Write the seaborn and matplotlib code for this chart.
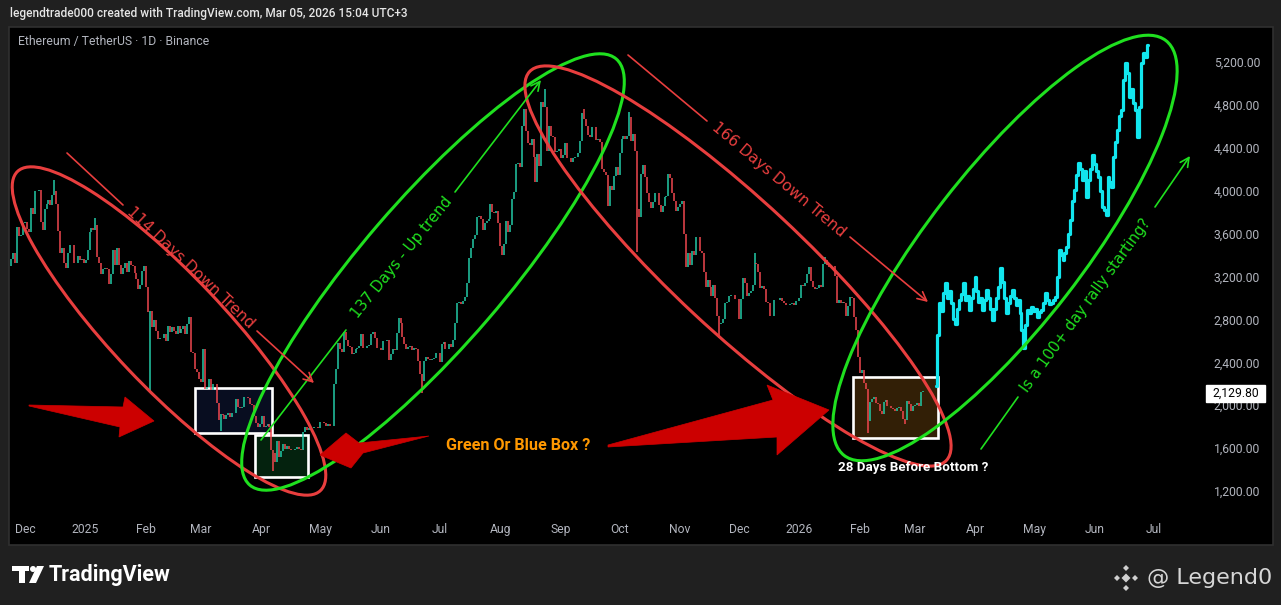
import numpy as np
import pandas as pd
import matplotlib
matplotlib.use("Agg")
import matplotlib.pyplot as plt
import matplotlib.dates as mdates
from matplotlib.patches import Ellipse, Polygon, Rectangle, Circle
from matplotlib.ticker import FuncFormatter
import seaborn as sns

# ---------------- data (daily closes, ETH/USDT) ----------------
nov24 = [3360, 3415, 3330, 3660, 3580, 3590, 3700]
dec24 = [3710, 3640, 3610, 3840, 3780, 4000, 3995, 4010, 3710, 3630, 3830, 3880, 3910, 3870, 3960, 4000,
         3880, 3620, 3420, 3470, 3330, 3280, 3420, 3490, 3490, 3330, 3330, 3390, 3350, 3360, 3330]
jan25 = [3350, 3450, 3610, 3650, 3630, 3680, 3380, 3330, 3220, 3270, 3280, 3270, 3130, 3220, 3450, 3310,
         3470, 3310, 3220, 3280, 3330, 3240, 3340, 3310, 3300, 3230, 3180, 3080, 3120, 3250, 3300]
feb25 = [3100, 2870, 2880, 2730, 2790, 2690, 2620, 2630, 2630, 2660, 2600, 2740, 2680, 2730, 2690, 2660,
         2740, 2670, 2710, 2740, 2660, 2760, 2820, 2500, 2490, 2340, 2310, 2240]
mar25 = [2220, 2520, 2150, 2170, 2240, 2140, 2200, 2200, 2020, 1860, 1920, 1910, 1870, 1910, 1930, 1890,
         1930, 1930, 2060, 1980, 1970, 1980, 2080, 2080, 2070, 2010, 2000, 1900, 1830, 1800, 1820]
apr25 = [1900, 1800, 1810, 1820, 1800, 1580, 1550, 1470, 1670, 1520, 1570, 1640, 1590, 1620, 1590, 1580,
         1580, 1590, 1610, 1590, 1580, 1750, 1800, 1770, 1790, 1790, 1790, 1800, 1800, 1790]
may25 = [1840, 1840, 1830, 1810, 1820, 1810, 1810, 2200, 2340, 2580, 2520, 2500, 2680, 2610, 2550, 2540,
         2480, 2490, 2520, 2530, 2550, 2660, 2530, 2530, 2550, 2560, 2660, 2680, 2630, 2530, 2530]
jun25 = [2510, 2600, 2600, 2610, 2420, 2480, 2520, 2510, 2670, 2810, 2770, 2640, 2570, 2520, 2540, 2550,
         2510, 2530, 2520, 2410, 2290, 2230, 2410, 2450, 2430, 2420, 2430, 2440, 2490, 2490]
jul25 = [2400, 2570, 2590, 2520, 2520, 2570, 2540, 2610, 2770, 2950, 2960, 2940, 2970, 3010, 3140, 3370,
         3470, 3550, 3590, 3750, 3760, 3740, 3630, 3700, 3720, 3740, 3880, 3800, 3790, 3810, 3700]
aug25 = [3480, 3400, 3500, 3720, 3610, 3680, 3920, 3990, 4250, 4260, 4220, 4600, 4760, 4560, 4440, 4430,
         4480, 4310, 4080, 4340, 4230, 4830, 4780, 4780, 4370, 4600, 4510, 4500, 4360, 4370, 4390]
sep25 = [4300, 4330, 4440, 4300, 4300, 4270, 4300, 4310, 4310, 4350, 4460, 4720, 4670, 4600, 4520, 4500,
         4590, 4590, 4470, 4480, 4450, 4200, 4170, 4150, 3860, 4040, 4010, 4140, 4220, 4150]
oct25 = [4350, 4480, 4510, 4480, 4510, 4690, 4460, 4530, 4370, 3830, 3750, 4160, 4240, 4130, 3980, 3890,
         3840, 3890, 3980, 3980, 3870, 3800, 3860, 3940, 3950, 4160, 4120, 3980, 3900, 3810, 3850]
nov25 = [3880, 3900, 3600, 3290, 3420, 3310, 3440, 3400, 3570, 3570, 3440, 3420, 3240, 3100, 3170, 3100,
         3020, 3120, 3000, 2830, 2760, 2770, 2800, 2950, 2960, 3020, 3030, 3030, 2990, 2990]
dec25 = [2800, 2990, 3190, 3140, 3020, 3050, 3060, 3120, 3330, 3320, 3240, 3090, 3110, 3080, 2960, 2950,
         2830, 2830, 2980, 2980, 2980, 3000, 2970, 2950, 2930, 2930, 2940, 2950, 2930, 2970, 2970]
jan26 = [3000, 3120, 3110, 3140, 3220, 3290, 3160, 3100, 3080, 3090, 3120, 3100, 3320, 3350, 3310, 3290,
         3300, 3300, 3200, 2950, 2980, 2950, 2960, 2950, 2830, 2920, 3010, 3000, 2820, 2700, 2450]
feb26 = [2300, 2330, 2210, 2150, 1850, 2030, 2060, 2080, 2020, 2010, 1950, 1920, 2030, 2050, 1990, 1990,
         1970, 1960, 1950, 1970, 1980, 1950, 1870, 1860, 2040, 2010, 1950, 1990]
mar26 = [2000, 2020, 1990, 2120, 2130]

month_starts = ["2024-11-24", "2024-12-01", "2025-01-01", "2025-02-01", "2025-03-01", "2025-04-01",
                "2025-05-01", "2025-06-01", "2025-07-01", "2025-08-01", "2025-09-01", "2025-10-01",
                "2025-11-01", "2025-12-01", "2026-01-01", "2026-02-01", "2026-03-01"]
month_closes = [nov24, dec24, jan25, feb25, mar25, apr25, may25, jun25, jul25, aug25, sep25, oct25,
                nov25, dec25, jan26, feb26, mar26]
first_open = 3300

# notable wicks (date -> extreme)
wick_lows = {"2025-02-03": 2120, "2025-03-11": 1760, "2025-04-07": 1385, "2025-06-22": 2110,
             "2025-10-10": 3430, "2025-11-21": 2630, "2026-02-05": 1745, "2026-02-24": 1820}
wick_highs = {"2024-12-16": 4100, "2025-01-06": 3745, "2025-08-24": 4950, "2025-09-13": 4760,
              "2025-10-06": 4730, "2025-12-09": 3420, "2026-01-14": 3380}

# projected path (cyan), daily from 2026-03-12
proj_start = "2026-03-12"
proj_prices = [2180, 2650, 2950, 2880, 3050, 3140, 3000, 3060, 2950, 2800, 2760, 2900, 2980, 3040, 3140,
               2980, 3020, 2890, 3000, 3080, 3195, 3060, 2960, 3000, 2890, 2980, 3074, 3000, 2900, 2794,
               2900, 3000, 3100, 3279, 3150, 3000, 2860, 2950, 3020, 3074, 3000, 2930, 2980, 2860, 2700,
               2533, 2750, 2888, 2860, 2916, 2880, 2900, 2823, 2870, 2888, 2950, 3046, 2980, 2940, 2953,
               2980, 3009, 3195, 3447, 3400, 3354, 3420, 3475, 3600, 3727, 3900, 4007, 4150, 4258, 4200,
               4100, 4180, 3941, 4100, 4200, 4333, 4250, 4180, 4128, 4000, 3850, 3820, 3773, 4128, 4080,
               4035, 4314, 4450, 4566, 4700, 4752, 5032, 5190, 5097, 4874, 4950, 4818, 4750, 4501, 4780,
               5190, 5283, 5250, 5358]

last_price = 2129.80
price_ticks = [1200, 1600, 2000, 2400, 2800, 3200, 3600, 4000, 4400, 4800, 5200]

# highlighted ranges (date range, price range)
boxes = [
    ("2025-02-26", "2025-04-06 07:00", 1741, 2160, "#080d20"),
    ("2025-03-28 14:00", "2025-04-24 19:00", 1331, 1722, "#04220e"),
    ("2026-01-28 12:00", "2026-03-13", 1694, 2263, "#321f06"),
]

# ---------------- build series ----------------
dates, closes = [], []
for s, vals in zip(month_starts, month_closes):
    dates += list(pd.date_range(s, periods=len(vals), freq="D"))
    closes += vals
df = pd.DataFrame({"date": dates, "close": closes})
df["open"] = [first_open] + closes[:-1]
df["low"] = df[["open", "close"]].min(axis=1)
df["high"] = df[["open", "close"]].max(axis=1)
for d, v in wick_lows.items():
    m = df["date"] == pd.Timestamp(d)
    df.loc[m, "low"] = np.minimum(df.loc[m, "low"], v)
for d, v in wick_highs.items():
    m = df["date"] == pd.Timestamp(d)
    df.loc[m, "high"] = np.maximum(df.loc[m, "high"], v)
UP, DOWN = "#22c9a6", "#f0474f"
df["color"] = np.where(df["close"] >= df["open"], UP, DOWN)

proj = pd.DataFrame({"date": pd.date_range(proj_start, periods=len(proj_prices), freq="D"),
                     "price": proj_prices})

# ---------------- figure ----------------
sns.set_theme(style="dark")
plt.rcParams["font.family"] = ["DejaVu Sans"]
W, H = 1281, 605
fig = plt.figure(figsize=(W / 100, H / 100), dpi=100, facecolor="#202020")

back = fig.add_axes([0, 0, 1, 1], zorder=0)
back.set_xlim(0, W); back.set_ylim(H, 0); back.axis("off")
back.add_patch(Rectangle((9, 27), 1264, 518, facecolor="black", edgecolor="#303030", lw=1.2))

ax = fig.add_axes([10 / W, (H - 515) / H, 1165 / W, 485 / H], zorder=1)
ax.patch.set_alpha(0)
for sp in ax.spines.values():
    sp.set_visible(False)
ax.grid(False)

for d0, d1, p0, p1, fc in boxes:
    x0 = mdates.date2num(pd.Timestamp(d0)); x1 = mdates.date2num(pd.Timestamp(d1))
    ax.add_patch(Rectangle((x0, p0), x1 - x0, p1 - p0, facecolor=fc, edgecolor="white", lw=1.9, zorder=1))

ax.vlines(df["date"], df["low"], df["high"], colors=df["color"], lw=1.1, zorder=2)
sns.lineplot(data=proj, x="date", y="price", ax=ax, color="#12e6ee", lw=2.3,
             drawstyle="steps-mid", zorder=3)

ax.set_xlim(pd.Timestamp("2024-11-23 08:00"), pd.Timestamp("2026-07-12"))
ax.set_ylim(976, 5498)
ax.set_xlabel(""); ax.set_ylabel("")
ax.xaxis.set_major_locator(mdates.MonthLocator())
ax.xaxis.set_major_formatter(FuncFormatter(
    lambda v, p: (mdates.num2date(v).strftime("%Y") if mdates.num2date(v).month == 1
                  else mdates.num2date(v).strftime("%b"))))
ax.yaxis.tick_right()
ax.set_yticks(price_ticks)
ax.set_yticklabels([f"{v:,.2f}" for v in price_ticks])
for lab in ax.get_xticklabels() + ax.get_yticklabels():
    lab.set_family("Roboto")
ax.tick_params(axis="y", length=0, pad=28, labelsize=8.7, colors="#b2b5be")
ax.tick_params(axis="x", length=0, pad=6, labelsize=8.7, colors="#b2b5be")

# ---------------- annotation layer (pixel space) ----------------
fg = fig.add_axes([0, 0, 1, 1], zorder=2)
fg.set_xlim(0, W); fg.set_ylim(H, 0); fg.axis("off"); fg.patch.set_alpha(0)

RED, GREEN, DRED = "#e83e3e", "#1fe01f", "#cc0000"
fg.add_patch(Ellipse((169, 331), 440, 112, angle=46.5, fill=False, ec=RED, lw=2.2))
fg.add_patch(Ellipse((433, 272), 562, 145, angle=-49.3, fill=False, ec=GREEN, lw=2.2))
fg.add_patch(Ellipse((738, 266), 570, 130, angle=43, fill=False, ec=RED, lw=2.2))
fg.add_patch(Ellipse((1005, 248), 525, 155, angle=-52.2, fill=False, ec=GREEN, lw=2.2))

def seg(p0, p1, color, arrow=False):
    if arrow:
        fg.annotate("", xy=p1, xytext=p0,
                    arrowprops=dict(arrowstyle="->", color=color, lw=1.2, mutation_scale=16,
                                    shrinkA=0, shrinkB=0))
    else:
        fg.plot([p0[0], p1[0]], [p0[1], p1[1]], color=color, lw=1.2)

seg((67, 153), (123, 205), RED); seg((257, 331), (314, 383), RED, True)
seg((628, 55), (707, 121), RED); seg((850, 237), (928, 302), RED, True)
seg((261, 440), (346, 330), GREEN); seg((455, 192), (541, 80), GREEN, True)
seg((981, 449), (1018, 397), GREEN); seg((1155, 207), (1190, 156), GREEN, True)

tk = dict(ha="center", va="center", rotation_mode="anchor", family="DejaVu Sans")
fg.text(191, 268, "114 Days Down Trend", color=RED, fontsize=11.2, rotation=-43.4, **tk)
fg.text(402, 258, "137 Days - Up trend", color=GREEN, fontsize=10.8, rotation=51, **tk)
fg.text(779, 180, "166 Days Down Trend", color=RED, fontsize=11.2, rotation=-40, **tk)
fg.text(1086, 305, "Is a 100+ day rally starting?", color=GREEN, fontsize=10.6, rotation=54, **tk)

fg.add_patch(Polygon([(29, 405), (123, 407), (125, 397), (154, 421), (119, 437), (120, 427), (29, 406)],
                     closed=True, fc=DRED, ec=DRED, lw=0.5))
fg.add_patch(Polygon([(320, 455), (346, 433), (359, 443), (429, 436), (363, 453), (351, 468)],
                     closed=True, fc=DRED, ec=DRED, lw=0.5))
fg.add_patch(Polygon([(608, 445), (773, 400), (767, 385), (829, 410), (777, 455), (777, 437), (608, 447)],
                     closed=True, fc=DRED, ec=DRED, lw=0.5))

fg.text(518, 445, "Green Or Blue Box ?", color="#ff9800", fontsize=11.6, fontweight="bold",
        ha="center", va="center", family="Roboto")
fg.text(913, 467, "28 Days Before Bottom ?", color="white", fontsize=9.6, fontweight="bold",
        ha="center", va="center", family="Roboto")

# header / titles
fg.text(10, 14, "legendtrade000 created with TradingView.com, Mar 05, 2026 15:04 UTC+3",
        color="#e6e6e6", fontsize=8.6, ha="left", va="center", family="Roboto", fontweight="medium")
fg.text(18, 42, "Ethereum / TetherUS \u00b7 1D \u00b7 Binance", color="#b2b5be", fontsize=8.8,
        ha="left", va="center", family="Roboto")

# last price tag
fg.add_patch(Rectangle((1206, 385), 59, 17, fc="white", ec="white"))
fg.text(1235.5, 393.5, "2,129.80", color="black", fontsize=8.7, ha="center", va="center", family="Roboto")

# footer: TradingView logo + watermark
fg.add_patch(Rectangle((12, 566), 17, 5, fc="white", ec="none"))
fg.add_patch(Rectangle((19, 566), 6, 17, fc="white", ec="none"))
fg.add_patch(Circle((33, 569), 3, fc="white", ec="none"))
fg.add_patch(Polygon([(37, 566), (44, 566), (36, 583), (29, 583)], closed=True, fc="white", ec="none"))
fg.text(49, 575, "TradingView", color="white", fontsize=15.5, fontweight="bold", ha="left", va="center",
        family="Roboto")
for cx, cy, r in [(1126, 568, 3), (1126, 588, 3), (1117, 578, 3), (1135, 578, 3), (1126, 578, 4.5)]:
    fg.add_patch(Polygon([(cx, cy - r), (cx + r, cy), (cx, cy + r), (cx - r, cy)], closed=True,
                         fc="#cfcfcf", ec="none"))
fg.text(1272, 578, "@ Legend0", color="#d6d6d6", fontsize=16, ha="right", va="center",
        family="DejaVu Sans")

fig.savefig("out.png", dpi=100, facecolor=fig.get_facecolor())
